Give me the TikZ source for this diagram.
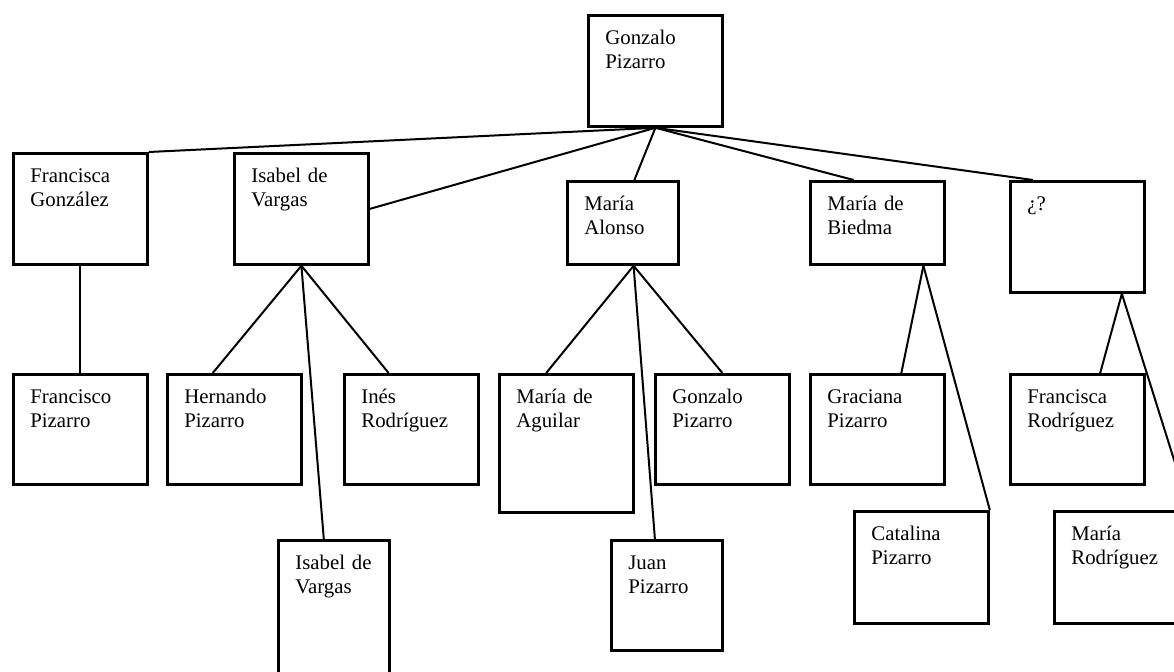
\documentclass[tikz,border=0pt]{standalone}
\usepackage{fontspec}
\setmainfont{Liberation Serif}
\usepackage{tikz}

\tikzset{
  person/.style={draw, line width=1.4pt, anchor=north west, inner xsep=8.5pt, inner ysep=0pt,
    align=left, font=\fontsize{10.4}{12.2}\selectfont, text height=14.5pt},
  wide/.style={text width=50pt},
  narrow/.style={text width=38.5pt},
  link/.style={line width=1pt},
}

\begin{document}
\begin{tikzpicture}[x=0.5pt, y=-0.5pt]
\useasboundingbox (0,0) rectangle (1174,672);
\clip (0,0) rectangle (1174,672);

% first generation
\node[person, wide, text depth=41pt] (gonzalo) at (587,14) {Gonzalo\\Pizarro};

% wives
\node[person, wide, text depth=41pt] (fgonzalez) at (12,152) {Francisca\\González};
\node[person, wide, text depth=41pt] (isabel) at (233,152) {Isabel~de\\Vargas};
\node[person, narrow, text depth=27pt] (malonso) at (566,180) {María\\Alonso};
\node[person, wide, text depth=27pt] (mbiedma) at (809,180) {María~de\\Biedma};
\node[person, wide, text depth=41pt] (unknown) at (1009,180) {¿?};

% children
\node[person, wide, text depth=40.5pt] (fpizarro) at (12,373) {Francisco\\Pizarro};
\node[person, wide, text depth=40.5pt] (hpizarro) at (166,373) {Hernando\\Pizarro};
\node[person, wide, text depth=40.5pt] (irodriguez) at (343,373) {Inés\\Rodríguez};
\node[person, narrow, text depth=56pt] (isabel2) at (277,539) {Isabel~de\\Vargas};
\node[person, wide, text depth=54.5pt] (maguilar) at (498,373) {María~de\\Aguilar};
\node[person, wide, text depth=40.5pt] (gpizarro) at (654,373) {Gonzalo\\Pizarro};
\node[person, narrow, text depth=40.5pt] (jpizarro) at (610,539) {Juan\\Pizarro};
\node[person, wide, text depth=40.5pt] (graciana) at (809,373) {Graciana\\Pizarro};
\node[person, wide, text depth=41.5pt] (cpizarro) at (853,510) {Catalina\\Pizarro};
\node[person, wide, text depth=40.5pt] (frodriguez) at (1009,373) {Francisca\\Rodríguez};
\node[person, wide, text depth=41.5pt] (mrodriguez) at (1053,510) {María\\Rodríguez};

% links
\draw[link] (gonzalo.south) -- (fgonzalez.north east);
\draw[link] (gonzalo.south) -- (isabel.east);
\draw[link] (gonzalo.south) -- (malonso.75);
\draw[link] (gonzalo.south) -- (mbiedma.119);
\draw[link] (gonzalo.south) -- (unknown.128);
\draw[link] (fgonzalez.south) -- (fpizarro.north);
\draw[link] (isabel.south) -- (hpizarro.111);
\draw[link] (isabel.south) -- (isabel2.98);
\draw[link] (isabel.south) -- (irodriguez.112);
\draw[link] (malonso.-76) -- (maguilar.106);
\draw[link] (malonso.-76) -- (jpizarro.102);
\draw[link] (malonso.-76) -- (gpizarro.north);
\draw[link] (mbiedma.-43) -- (graciana.67);
\draw[link] (mbiedma.-43) -- (cpizarro.north east);
\draw[link] (unknown.-52) -- (frodriguez.68);
\draw[link] (unknown.-52) -- (mrodriguez.north east);
\end{tikzpicture}
\end{document}
